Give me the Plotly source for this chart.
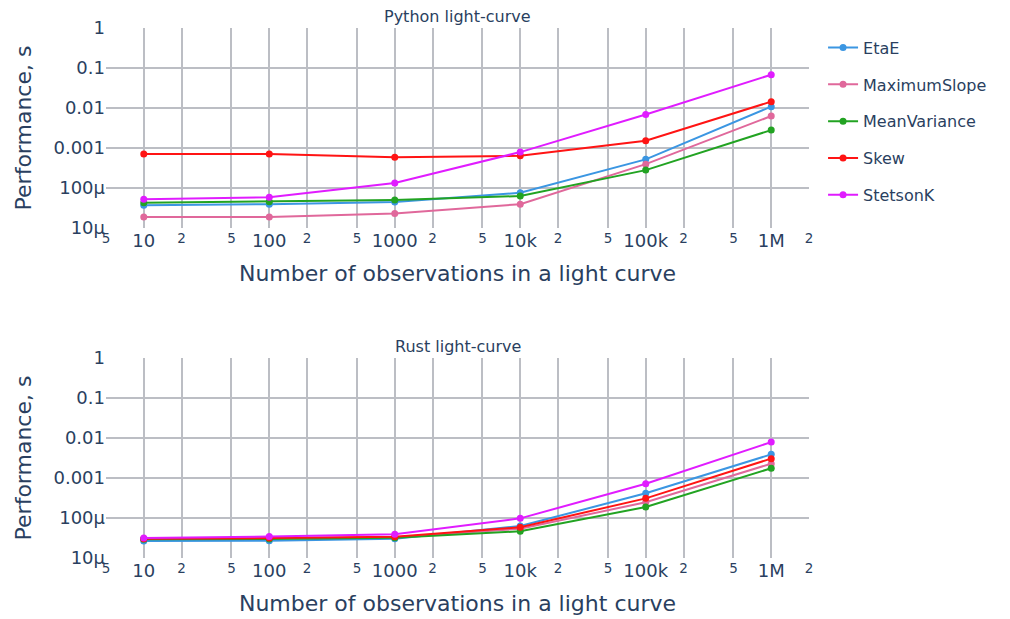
import plotly.graph_objects as go
from plotly.subplots import make_subplots

n_obs = [10, 100, 1000, 10000, 100000, 1000000]
features = ["EtaE", "MaximumSlope", "MeanVariance", "Skew", "StetsonK"]
colors = ["#3b96e2", "#e0689b", "#22a322", "#ff1414", "#e01cff"]

python_times = {
    "EtaE":         [3.7e-5, 3.95e-5, 4.45e-5, 7.6e-5, 5.2e-4, 0.0108],
    "MaximumSlope": [1.88e-5, 1.88e-5, 2.3e-5, 3.95e-5, 3.95e-4, 6.3e-3],
    "MeanVariance": [4.3e-5, 4.55e-5, 5.0e-5, 6.3e-5, 2.8e-4, 2.8e-3],
    "Skew":         [7.1e-4, 7.1e-4, 5.85e-4, 6.4e-4, 1.52e-3, 0.0144],
    "StetsonK":     [5.2e-5, 5.9e-5, 1.33e-4, 7.9e-4, 6.9e-3, 0.068],
}
rust_times = {
    "EtaE":         [2.65e-5, 2.7e-5, 3.05e-5, 6.3e-5, 4.15e-4, 3.9e-3],
    "MaximumSlope": [3.0e-5, 3.1e-5, 3.3e-5, 5.4e-5, 2.47e-4, 2.28e-3],
    "MeanVariance": [2.95e-5, 3.0e-5, 3.2e-5, 4.65e-5, 1.88e-4, 1.75e-3],
    "Skew":         [3.05e-5, 3.15e-5, 3.4e-5, 5.85e-5, 3.1e-4, 3.05e-3],
    "StetsonK":     [3.15e-5, 3.45e-5, 3.95e-5, 9.8e-5, 7.2e-4, 7.9e-3],
}

fig = make_subplots(rows=2, cols=1, subplot_titles=["Python light-curve", "Rust light-curve"],
                    vertical_spacing=130 / 530)

for row, data in [(1, python_times), (2, rust_times)]:
    for name, color in zip(features, colors):
        fig.add_trace(go.Scatter(
            x=n_obs, y=data[name], name=name, mode="lines+markers",
            line=dict(color=color, width=2), marker=dict(color=color, size=7),
            legendgroup=name, showlegend=(row == 1)), row=row, col=1)

axis_common = dict(type="log", showgrid=True, gridcolor="#bcbec4", gridwidth=1.5,
                   tickfont=dict(size=18), title_font=dict(size=22),
                   zeroline=False, showline=False, automargin=False)
for r in (1, 2):
    fig.update_xaxes(range=[0.69897, 6.30103], dtick="D2",
                     title_text="Number of observations in a light curve",
                     row=r, col=1, **axis_common)
    fig.update_yaxes(range=[-5, 0], dtick=1, title_text="Performance, s",
                     row=r, col=1, **axis_common)

fig.update_annotations(font=dict(size=16, family="DejaVu Sans", color="#2a3f5f"))

fig.update_layout(
    template="plotly_white",
    width=1010, height=619,
    margin=dict(l=98, r=209, t=20, b=69, autoexpand=False),
    font=dict(family="DejaVu Sans", color="#2a3f5f"),
    legend=dict(font=dict(size=16), tracegroupgap=13, y=0.995),
    plot_bgcolor="white", paper_bgcolor="white",
)

fig.write_html("out.html")
